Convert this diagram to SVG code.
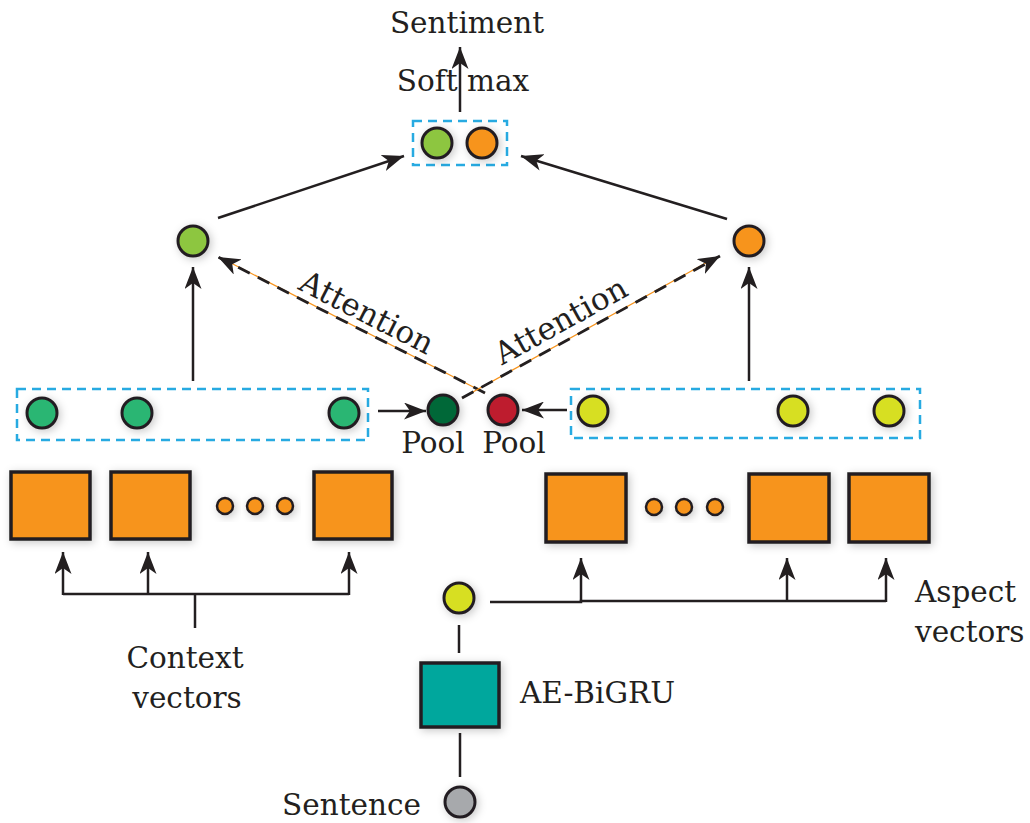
<svg xmlns="http://www.w3.org/2000/svg" width="1030" height="823" viewBox="0 0 1030 823">
<defs>
<filter id="sh" x="-50%" y="-50%" width="200%" height="200%">
<feDropShadow dx="2" dy="2" stdDeviation="4" flood-color="#000" flood-opacity="0.22"/>
</filter>
<marker id="ah" viewBox="0 0 22 17" refX="22" refY="8.5" markerWidth="22" markerHeight="17" markerUnits="userSpaceOnUse" orient="auto">
<path d="M0,0 L22,8.5 L0,17 L6,8.5 z" fill="#231f20"/>
</marker>
</defs>
<style>
.t{font-family:"DejaVu Serif","Liberation Serif",serif;font-size:29.5px;fill:#231f20}
.a{font-size:31px}
.c{stroke:#231f20;stroke-width:3;filter:url(#sh)}
.sq{stroke:#231f20;stroke-width:3.5;filter:url(#sh)}
.box{fill:none;stroke:#27aae1;stroke-width:2.5;stroke-dasharray:9 6}
.ln{stroke:#231f20;stroke-width:2.5;fill:none}
.ar{stroke:#231f20;stroke-width:2.5;fill:none;marker-end:url(#ah)}
.att{stroke:#231f20;stroke-width:2.8;fill:none;stroke-dasharray:13 9;marker-end:url(#ah)}
.atto{stroke:#f7941d;stroke-width:1.3;fill:none}
.gt{fill:#8dc63f}.or{fill:#f7941d}.gm{fill:#2bb673}.gd{fill:#006838}.rd{fill:#be1e2d}.ye{fill:#d7df23}.gy{fill:#a7a9ac}.te{fill:#00a79d}
</style>

<g id="connectors">
<line class="ar" x1="460" y1="112" x2="460" y2="47"/>
<line class="ar" x1="218" y1="218" x2="404" y2="156"/>
<line class="ar" x1="727" y1="219" x2="521" y2="156"/>
<line class="ar" x1="193" y1="381" x2="193" y2="267"/>
<line class="ar" x1="749" y1="381" x2="749" y2="267"/>
<line class="atto" x1="485" y1="393" x2="225" y2="260"/>
<line class="att" x1="485" y1="393" x2="218" y2="257"/>
<line class="atto" x1="462" y1="398" x2="713" y2="259"/>
<line class="att" x1="462" y1="398" x2="720" y2="256"/>
<line class="ar" x1="378" y1="411" x2="426" y2="411"/>
<line class="ar" x1="567" y1="410" x2="522" y2="410"/>
<polyline class="ln" points="195,628 195,594"/>
<polyline class="ln" points="63,594 349,594"/>
<line class="ar" x1="63" y1="595" x2="63" y2="552"/>
<line class="ar" x1="148" y1="595" x2="148" y2="552"/>
<line class="ar" x1="349" y1="595" x2="349" y2="552"/>
<polyline class="ln" points="490,602 581,602 581,601 886,601"/>
<line class="ar" x1="581" y1="602" x2="581" y2="558"/>
<line class="ar" x1="787" y1="602" x2="787" y2="558"/>
<line class="ar" x1="886" y1="602" x2="886" y2="558"/>
<line class="ln" x1="459" y1="625" x2="459" y2="653"/>
<line class="ln" x1="460" y1="733" x2="460" y2="777"/>
</g>

<g id="softmax-out">
<rect class="box" x="413" y="121" width="94" height="44"/>
<circle class="c gt" cx="437" cy="143" r="15"/>
<circle class="c or" cx="482" cy="143" r="15"/>
</g>

<g id="context-att">
<circle class="c gt" cx="193" cy="241" r="15"/>
</g>
<g id="aspect-att">
<circle class="c or" cx="749" cy="241" r="15"/>
</g>

<g id="context-hidden">
<rect class="box" x="17" y="389" width="351" height="51"/>
<circle class="c gm" cx="42" cy="413" r="15"/>
<circle class="c gm" cx="137" cy="413" r="15"/>
<circle class="c gm" cx="344" cy="413" r="15"/>
</g>

<g id="aspect-hidden">
<rect class="box" x="571" y="389" width="349" height="49"/>
<circle class="c ye" cx="593" cy="411" r="15"/>
<circle class="c ye" cx="793" cy="411" r="15"/>
<circle class="c ye" cx="889" cy="411" r="15"/>
</g>

<g id="pool-context">
<circle class="c gd" cx="443" cy="410" r="15"/>
<text class="t" x="433" y="453" text-anchor="middle">Pool</text>
</g>
<g id="pool-aspect">
<circle class="c rd" cx="503" cy="410" r="15"/>
<text class="t" x="514" y="453" text-anchor="middle">Pool</text>
</g>

<g id="context-cells">
<rect class="sq or" x="11" y="472" width="79" height="67"/>
<rect class="sq or" x="111" y="472" width="79" height="67"/>
<circle class="c or" cx="225" cy="506" r="8" style="stroke-width:2.5"/>
<circle class="c or" cx="255" cy="506" r="8" style="stroke-width:2.5"/>
<circle class="c or" cx="285" cy="506" r="8" style="stroke-width:2.5"/>
<rect class="sq or" x="314" y="472" width="78" height="67"/>
</g>

<g id="aspect-cells">
<rect class="sq or" x="546" y="474" width="80" height="68"/>
<circle class="c or" cx="654" cy="507" r="8" style="stroke-width:2.5"/>
<circle class="c or" cx="684" cy="507" r="8" style="stroke-width:2.5"/>
<circle class="c or" cx="715" cy="507" r="8" style="stroke-width:2.5"/>
<rect class="sq or" x="749" y="474" width="80" height="68"/>
<rect class="sq or" x="849" y="474" width="80" height="68"/>
</g>

<g id="aspect-vec">
<circle class="c ye" cx="459" cy="598" r="15"/>
</g>
<g id="ae-bigru">
<rect class="sq te" x="421" y="663" width="78" height="64"/>
<text class="t" x="520" y="703">AE-BiGRU</text>
</g>
<g id="sentence">
<circle class="c gy" cx="460" cy="802" r="15"/>
<text class="t" x="421" y="815" text-anchor="end">Sentence</text>
</g>

<g id="labels">
<text class="t" x="467" y="33" text-anchor="middle">Sentiment</text>
<text class="t" x="463" y="91" text-anchor="middle">Soft max</text>
<text class="t a" x="362" y="322" text-anchor="middle" transform="rotate(27 362 322)">Attention</text>
<text class="t a" x="566" y="330" text-anchor="middle" transform="rotate(-29 566 330)">Attention</text>
<text class="t" x="185" y="668" text-anchor="middle">Context</text>
<text class="t" x="187" y="708" text-anchor="middle">vectors</text>
<text class="t" x="915" y="602">Aspect</text>
<text class="t" x="915" y="642">vectors</text>
</g>
</svg>
